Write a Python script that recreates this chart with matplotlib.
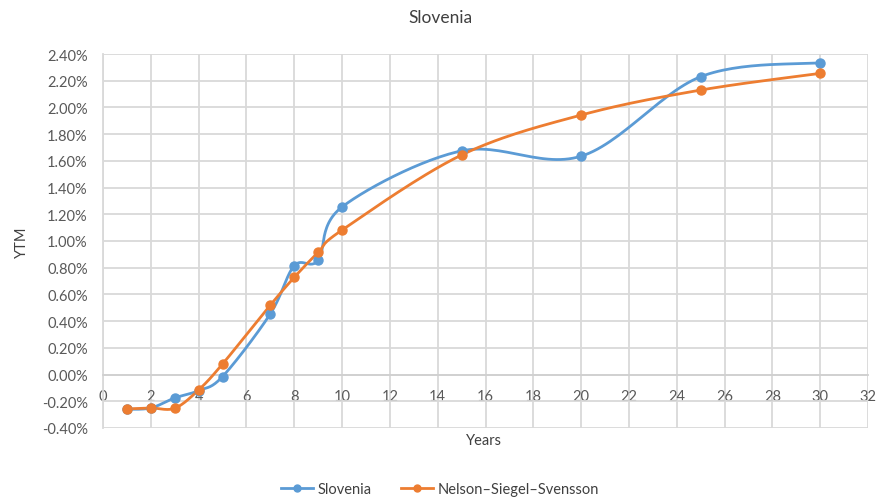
import numpy as np
import matplotlib
matplotlib.use("Agg")
import matplotlib.pyplot as plt
from matplotlib.ticker import FuncFormatter, MultipleLocator

plt.rcParams['font.family'] = ['Lato', 'DejaVu Sans']

years = [1, 2, 3, 4, 5, 7, 8, 9, 10, 15, 20, 25, 30]
slovenia = [-0.26, -0.25, -0.175, -0.12, -0.015, 0.455, 0.815, 0.855, 1.255, 1.675, 1.635, 2.23, 2.335]
nss = [-0.257, -0.25, -0.252, -0.115, 0.079, 0.52, 0.728, 0.915, 1.082, 1.644, 1.943, 2.13, 2.255]

title = "Slovenia"
xlabel = "Years"
ylabel = "YTM"
names = ["Slovenia", "Nelson\u2013Siegel\u2013Svensson"]
colors = ["#5B9BD5", "#ED7D31"]


def smooth(x, y, n=30):
    x = np.asarray(x, float)
    y = np.asarray(y, float)
    P = np.column_stack([x, y])
    out = [P[0]]
    m = len(P)
    for i in range(m - 1):
        p0 = P[i - 1] if i > 0 else P[i]
        p1 = P[i]
        p2 = P[i + 1]
        p3 = P[i + 2] if i + 2 < m else P[i + 1]
        c1 = p1 + (p2 - p0) / 6.0
        c2 = p2 - (p3 - p1) / 6.0
        t = np.linspace(0, 1, n)[1:, None]
        seg = ((1 - t) ** 3) * p1 + 3 * ((1 - t) ** 2) * t * c1 + 3 * (1 - t) * t ** 2 * c2 + t ** 3 * p2
        out.extend(seg)
    out = np.array(out)
    return out[:, 0], out[:, 1]


fig = plt.figure(figsize=(8.8, 5.02), dpi=100)
ax = fig.add_axes([103 / 880, 1 - 429 / 502, (868 - 103) / 880, (429 - 55) / 502])

ax.set_xlim(0, 32)
ax.set_ylim(-0.4, 2.4)
ax.xaxis.set_major_locator(MultipleLocator(2))
ax.yaxis.set_major_locator(MultipleLocator(0.2))
ax.yaxis.set_major_formatter(FuncFormatter(lambda v, p: f"{v:.2f}%"))
ax.grid(True, color="#d9d9d9", linewidth=1.3)
ax.set_axisbelow(True)
for s in ["top", "right"]:
    ax.spines[s].set_visible(False)
ax.spines["left"].set_color("#d9d9d9")
ax.spines["left"].set_linewidth(1.3)
ax.spines["bottom"].set_position(("data", 0))
ax.spines["bottom"].set_color("#d0d0d0")
ax.spines["bottom"].set_linewidth(1.3)
ax.tick_params(axis="both", length=0, labelsize=10.5, labelcolor="#595959")
ax.tick_params(axis="x", pad=10.5)
ax.tick_params(axis="y", pad=11)

handles = []
for vals, c, name in zip([slovenia, nss], colors, names):
    sx, sy = smooth(years, vals)
    ax.plot(sx, sy, color=c, linewidth=2, solid_capstyle="round", zorder=3)
    ax.plot(years, vals, linestyle="none", marker="o", markersize=6.5, color=c, zorder=4)
    h, = ax.plot([], [], color=c, linewidth=2, marker="o", markersize=5, label=name)
    handles.append(h)

fig.text(0.5, 1 - 18 / 502, title, ha="center", va="center", fontsize=12.5, color="#404040")
fig.text(484 / 880, 1 - 441 / 502, xlabel, ha="center", va="center", fontsize=10.5, color="#404040")
fig.text(22 / 880, 1 - 242 / 502, ylabel, ha="center", va="center", rotation=90, fontsize=10.5, color="#404040")

fig.legend(handles=handles, loc="center", bbox_to_anchor=(0.5, 1 - 490 / 502), ncol=2, frameon=False,
           fontsize=10.5, labelcolor="#404040", handlelength=2.2, handletextpad=0.3, columnspacing=2.0)

fig.savefig("out.png", dpi=100)
